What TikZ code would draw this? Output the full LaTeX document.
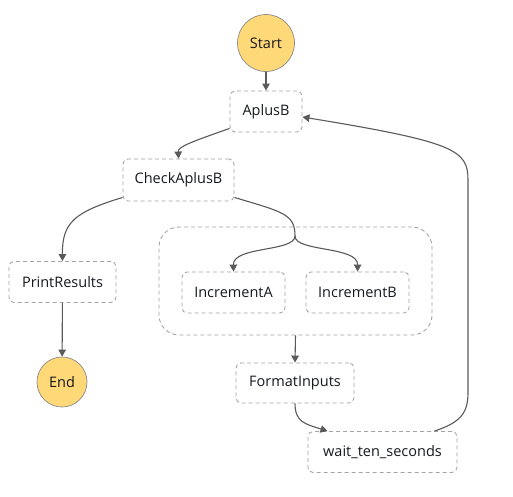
\documentclass[tikz,border=0pt]{standalone}
\usepackage{fontspec}
\setmainfont{Open Sans}
\usetikzlibrary{arrows.meta}
\definecolor{boxline}{HTML}{A4A4A4}
\definecolor{edgec}{HTML}{5A5A5A}
\definecolor{termfill}{HTML}{FFD878}
\definecolor{termline}{HTML}{8A8A8A}
\definecolor{txt}{HTML}{16191F}
\tikzset{
  statebox/.style={draw=boxline, line width=0.9pt, dash pattern=on 4pt off 3pt, rounded corners=5pt,
    fill=white, inner sep=0pt, text=txt, font=\fontsize{14.5}{16}\selectfont},
  term/.style={circle, draw=termline, line width=0.7pt, fill=termfill, inner sep=0pt, text=txt,
    font=\fontsize{14.5}{16}\selectfont},
  conn/.style={draw=edgec, line width=1.1pt, -{Triangle[width=7.5pt,length=7pt]}},
  plain/.style={draw=edgec, line width=1.1pt}
}
\begin{document}
\begin{tikzpicture}[x=1pt,y=-1pt]
\useasboundingbox (0,0) rectangle (513,496);
\fill[white] (0,0) rectangle (513,496);
% parallel container
\node[draw=boxline, line width=0.9pt, dash pattern=on 4pt off 3pt, rounded corners=20pt,
  minimum width=273pt, minimum height=108pt, inner sep=0pt] (par) at (295.5,281) {};
\node[term, minimum size=57pt] (start) at (266,43) {Start};
\node[statebox, minimum width=72pt, minimum height=41pt] (aplusb) at (266,111.5) {AplusB};
\node[statebox, minimum width=111pt, minimum height=42pt] (check) at (178.5,180) {CheckAplusB};
\node[statebox, minimum width=107pt, minimum height=41pt] (print) at (62.5,282) {PrintResults};
\node[term, minimum size=50pt] (end) at (62,382) {End};
\node[statebox, minimum width=103pt, minimum height=41pt] (inca) at (233.5,292.5) {IncrementA};
\node[statebox, minimum width=103pt, minimum height=41pt] (incb) at (357.5,292.5) {IncrementB};
\node[statebox, minimum width=118pt, minimum height=40pt] (format) at (295,383) {FormatInputs};
\node[statebox, minimum width=149pt, minimum height=41pt] (wait) at (382.5,452) {wait\_ten\_seconds};
\coordinate (fork) at (295,236);
% edges
\draw[conn] (start) -- (aplusb);
\draw[conn] ([yshift=4pt]aplusb.south west) .. controls (188,143) and (178,147) .. (check.north);
\draw[conn] ([yshift=4pt]check.south west) .. controls (75,212) and (62,222) .. (print.north);
\draw[conn] (print) -- (end);
\draw[plain] ([yshift=4pt]check.south east) .. controls (283,212) and (295,214) .. (fork);
\draw[conn] (fork) .. controls (295,252) and (233,246) .. (inca.north);
\draw[conn] (fork) .. controls (295,252) and (358,246) .. (incb.north);
\draw[conn] (par.south) -- (format.north);
\draw[conn] (format.south) .. controls (295,422) and (305,424) .. ([xshift=-55pt]wait.north);
\draw[conn] ([xshift=52pt]wait.north) .. controls (462,422) and (468,412) .. (468,392)
  -- (468,180) .. controls (468,150) and (455,142) .. ([yshift=-5.5pt]aplusb.east);
\end{tikzpicture}
\end{document}
